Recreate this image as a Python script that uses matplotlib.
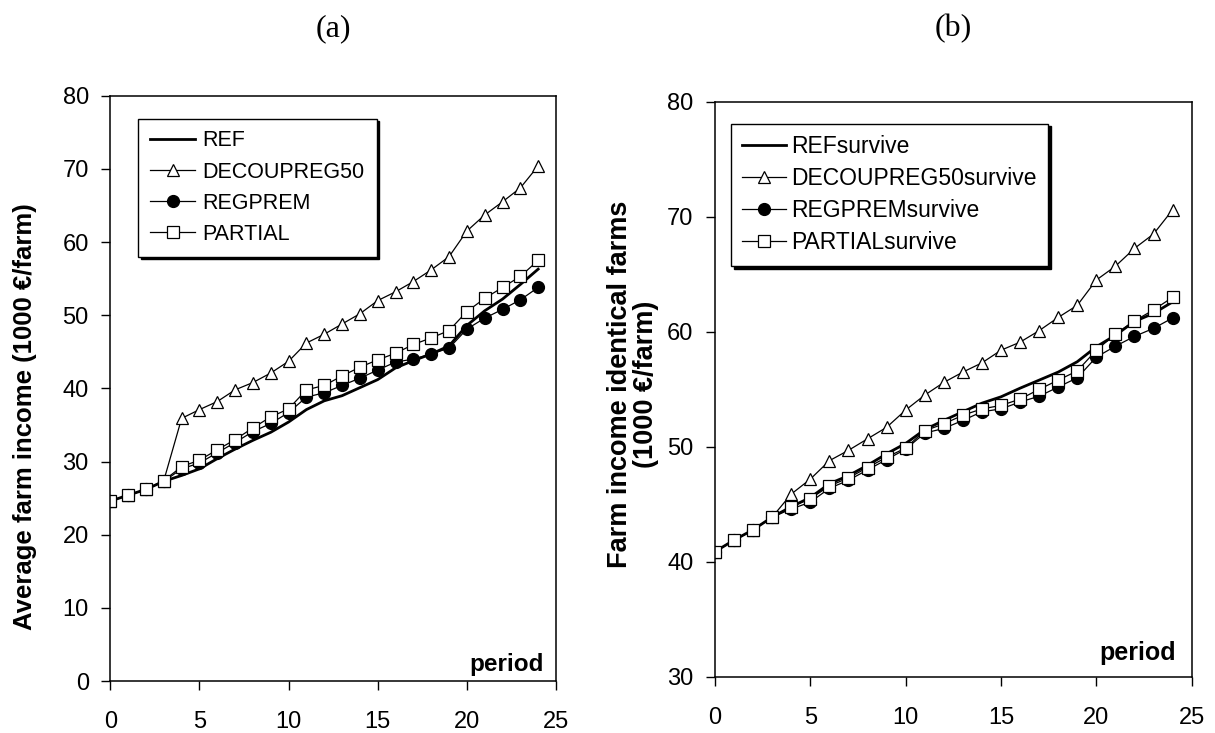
import numpy as np
import matplotlib
matplotlib.use('Agg')
import matplotlib.pyplot as plt

plt.rcParams['font.family'] = ['Liberation Sans', 'DejaVu Sans']

period = list(range(25))

# panel (a): average farm income
ref_a = [24.6, 25.4, 26.2, 27.3, 28.1, 29.0, 30.4, 31.7, 32.9, 34.0, 35.4, 37.1, 38.3,
         39.0, 40.1, 41.2, 42.8, 43.8, 44.7, 45.8, 48.6, 50.6, 52.2, 54.2, 56.3]
decoup_a = [24.6, 25.4, 26.2, 27.4, 35.9, 37.1, 38.2, 39.8, 40.8, 42.1, 43.7, 46.2, 47.4,
            48.8, 50.2, 52.0, 53.2, 54.6, 56.2, 58.0, 61.5, 63.7, 65.5, 67.4, 70.4]
regprem_a = [24.6, 25.4, 26.2, 27.3, 29.0, 29.8, 31.2, 32.6, 34.1, 35.2, 36.7, 38.8, 39.4,
             40.4, 41.4, 42.5, 43.6, 44.0, 44.7, 45.5, 48.1, 49.6, 50.8, 52.1, 53.8]
partial_a = [24.6, 25.4, 26.2, 27.4, 29.3, 30.2, 31.6, 33.0, 34.6, 36.1, 37.2, 39.8, 40.4,
             41.7, 42.9, 43.9, 44.8, 46.0, 46.9, 47.9, 50.5, 52.3, 53.8, 55.3, 57.5]

# panel (b): identical (surviving) farms
ref_b = [40.9, 41.9, 42.8, 43.9, 44.8, 45.6, 46.8, 47.5, 48.4, 49.4, 50.3, 51.5, 52.3,
         53.05, 53.8, 54.35, 55.1, 55.8, 56.5, 57.4, 58.7, 59.7, 60.9, 61.6, 62.6]
decoup_b = [40.9, 41.9, 42.8, 43.9, 45.9, 47.2, 48.8, 49.7, 50.7, 51.7, 53.2, 54.5, 55.6,
            56.5, 57.3, 58.4, 59.1, 60.1, 61.25, 62.3, 64.5, 65.7, 67.25, 68.5, 70.6]
regprem_b = [40.9, 41.9, 42.8, 43.9, 44.6, 45.2, 46.4, 47.1, 48.0, 48.9, 49.8, 51.2, 51.6,
             52.3, 53.05, 53.3, 53.9, 54.4, 55.2, 56.0, 57.8, 58.75, 59.6, 60.3, 61.2]
partial_b = [40.9, 41.9, 42.8, 43.9, 44.8, 45.5, 46.6, 47.3, 48.2, 49.1, 49.9, 51.4, 52.0,
             52.75, 53.3, 53.6, 54.15, 55.0, 55.8, 56.6, 58.4, 59.8, 60.95, 61.9, 63.0]

labels_a = ['REF', 'DECOUPREG50', 'REGPREM', 'PARTIAL']
labels_b = ['REFsurvive', 'DECOUPREG50survive', 'REGPREMsurvive', 'PARTIALsurvive']

fig = plt.figure(figsize=(12.15, 7.33), dpi=100)
axa = fig.add_axes([0.0908, 0.0709, 0.3668, 0.7985])
axb = fig.add_axes([0.5885, 0.0764, 0.3923, 0.7849])


def draw(ax, ref, dec, reg, par, labels):
    ax.plot(period, ref, color='black', lw=2.0, label=labels[0])
    ax.plot(period, dec, color='black', lw=0.9, marker='^', ms=9, mfc='white',
            mec='black', mew=0.9, label=labels[1])
    ax.plot(period, reg, color='black', lw=0.9, marker='o', ms=8.5, mfc='black',
            mec='black', label=labels[2])
    ax.plot(period, par, color='black', lw=0.9, marker='s', ms=8.5, mfc='white',
            mec='black', mew=0.9, label=labels[3])
    ax.set_xlim(0, 25)
    ax.set_xticks([0, 5, 10, 15, 20, 25])
    ax.tick_params(direction='out', length=6.5, width=1, labelsize=17)
    ax.tick_params(axis='x', pad=15)
    ax.tick_params(axis='y', pad=9)
    for s in ax.spines.values():
        s.set_linewidth(1.1)


draw(axa, ref_a, decoup_a, regprem_a, partial_a, labels_a)
axa.set_ylim(0, 80)
axa.set_yticks(range(0, 81, 10))
axa.set_ylabel('Average farm income (1000 €/farm)', fontsize=18.5, fontweight='bold')
axa.yaxis.set_label_coords(-0.165, 0.451)
axa.text(0.972, 0.008, 'period', transform=axa.transAxes, ha='right', va='bottom',
         fontsize=17.5, fontweight='bold')
axa.legend(loc='upper left', bbox_to_anchor=(0.063, 0.961), borderaxespad=0, fontsize=15.5,
           fancybox=False, edgecolor='black', framealpha=1,
           shadow={'color': 'black', 'alpha': 1}, handlelength=2.1, handletextpad=0.33,
           labelspacing=0.47, borderpad=0.55)

draw(axb, ref_b, decoup_b, regprem_b, partial_b, labels_b)
axb.set_ylim(30, 80)
axb.set_yticks(range(30, 81, 10))
axb.set_ylabel('Farm income identical farms\n(1000 €/farm)', fontsize=19.5, fontweight='bold',
               linespacing=1.0)
axb.yaxis.set_label_coords(-0.117, 0.509)
axb.text(0.967, 0.02, 'period', transform=axb.transAxes, ha='right', va='bottom',
         fontsize=18, fontweight='bold')
axb.legend(loc='upper left', bbox_to_anchor=(0.033, 0.962), borderaxespad=0, fontsize=16.5,
           fancybox=False, edgecolor='black', framealpha=1,
           shadow={'color': 'black', 'alpha': 1}, handlelength=1.9, handletextpad=0.25,
           labelspacing=0.4, borderpad=0.5)

fig.text(333 / 1215, 1 - 29 / 733, '(a)', ha='center', va='center', fontsize=23,
         family=['Liberation Serif', 'DejaVu Serif'])
fig.text(953 / 1215, 1 - 29 / 733, '(b)', ha='center', va='center', fontsize=23,
         family=['Liberation Serif', 'DejaVu Serif'])

fig.savefig('out.png', dpi=100)
